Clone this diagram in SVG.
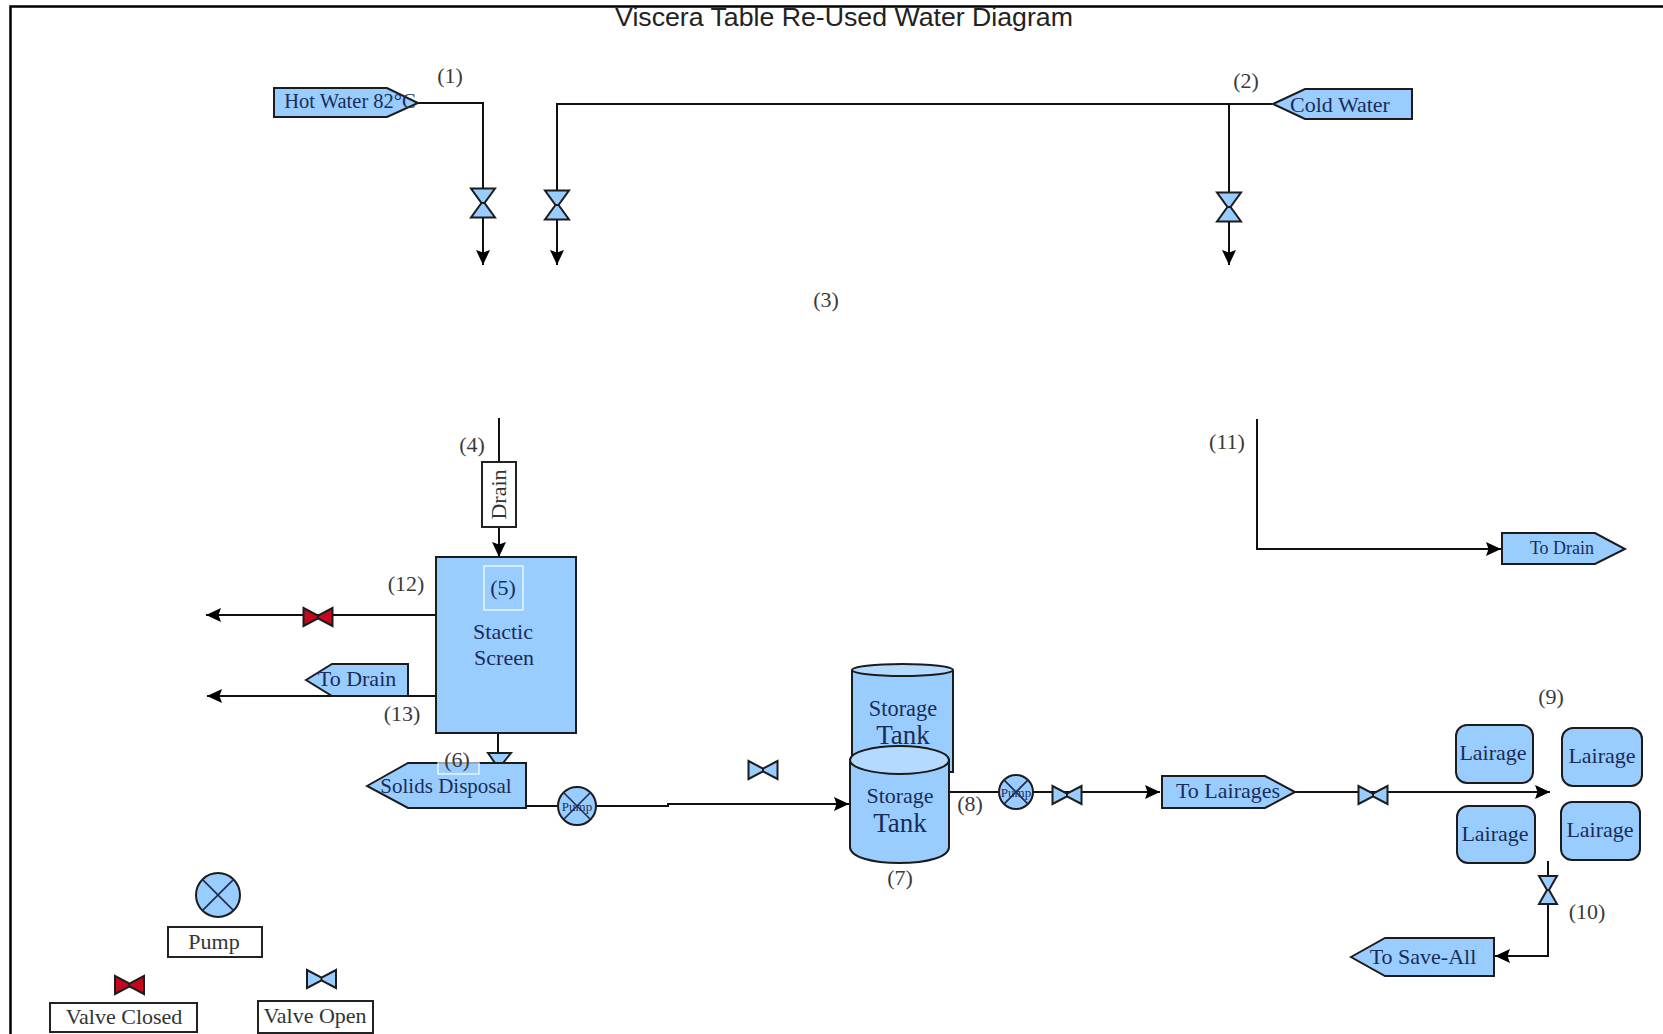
<svg xmlns="http://www.w3.org/2000/svg" width="1663" height="1034" viewBox="0 0 1663 1034">
<style>
text{font-family:"Liberation Serif","Times New Roman",serif;font-size:22px;text-anchor:middle}
.n{fill:#3a3a3a}
.d{fill:#1a2c58}
.k{fill:#333}
.t{font-family:"Liberation Sans",Arial,sans-serif;font-size:26.700px;fill:#222}
.s{fill:#99ccff;stroke:#1c1c1c;stroke-width:2}
.b{fill:#fff;stroke:#222;stroke-width:2}
.w{fill:none;stroke:#fff;stroke-width:1.2}
.l{fill:none;stroke:#111;stroke-width:2}
.v{fill:#99ccff;stroke:#1c1c1c;stroke-width:2;stroke-linejoin:miter}
.r{fill:#c4091e;stroke:#1c1c1c;stroke-width:2}
</style>
<defs>
<marker id="a" markerUnits="userSpaceOnUse" markerWidth="18" markerHeight="16" refX="15" refY="8" orient="auto"><path d="M0 1L2.500 8L0 15L15 8Z" fill="#000"/></marker>
<path id="vh" d="M-14.500-9V9L0 1.500V-1.500ZM14.500-9V9L0 1.500V-1.500Z"/>
<path id="vv" d="M-12-14.500H12L1.500 0H-1.500ZM-12 14.500H12L1.500 0H-1.500Z"/>
<g id="pumpglyph"><circle r="1" class="s" vector-effect="non-scaling-stroke"/><path d="M-.71-.71L.71.71M-.71.71L.71-.71" fill="none" stroke="#1c2c50" stroke-width="1.600" vector-effect="non-scaling-stroke"/></g>
</defs>
<path id="frame" d="M10.500 1034V6.500H1663" fill="none" stroke="#000" stroke-width="2.500"/>
<text class="t" x="844" y="26">Viscera Table Re-Used Water Diagram</text>

<g id="connectors">
<path class="l" d="M418 103H483V265" marker-end="url(#a)"/>
<path class="l" d="M1272 104H557V265" marker-end="url(#a)"/>
<path class="l" d="M1229 104V265" marker-end="url(#a)"/>
<path class="l" d="M499 418V557" marker-end="url(#a)"/>
<path class="l" d="M436 615H206" marker-end="url(#a)"/>
<path class="l" d="M436 696H207" marker-end="url(#a)"/>
<path class="l" d="M498 733V763"/>
<path class="l" d="M526 806H668V804H849" marker-end="url(#a)"/>
<path class="l" d="M950 792H1160" marker-end="url(#a)"/>
<path class="l" d="M1295 792H1550" marker-end="url(#a)"/>
<path class="l" d="M1548 861V956H1495" marker-end="url(#a)"/>
<path class="l" d="M1257 419V549H1501" marker-end="url(#a)"/>
</g>

<g id="hot-water"><path class="s" d="M274 88H387L418 103L387 117H274Z"/><text class="d" x="350" y="108" style="font-size:20.500px">Hot Water 82°C</text></g>
<g id="cold-water"><path class="s" d="M1273 104L1305 89H1412V119H1305Z"/><text class="d" x="1340" y="112">Cold Water</text></g>

<g id="valve-1"><use href="#vv" class="v" x="483" y="203"/></g>
<g id="valve-2"><use href="#vv" class="v" x="557" y="205"/></g>
<g id="valve-3"><use href="#vv" class="v" x="1229" y="207"/></g>

<g id="drain"><rect class="b" x="482" y="462" width="34" height="65"/><text class="k" transform="translate(506 494.500) rotate(-90)">Drain</text></g>

<g id="static-screen"><rect class="s" x="436" y="557" width="140" height="176"/><rect class="w" x="484" y="566" width="39" height="44"/><text class="d" x="503" y="595">(5)</text><text class="d" x="503" y="639">Stactic</text><text class="d" x="504" y="665">Screen</text></g>

<g id="valve-closed-12"><use href="#vh" class="r" x="318" y="617"/></g>
<g id="to-drain-left"><path class="s" d="M306 680L332 664H408V696H332Z"/><text class="d" x="357" y="686">To Drain</text></g>

<g id="partial-valve"><path class="v" d="M488 753H511L503 763H495Z"/></g>
<g id="solids-disposal"><path class="s" d="M367 786L408 763H526V808H408Z"/><rect class="w" x="438" y="763" width="41" height="11"/><text class="d" x="446" y="793" style="font-size:21px">Solids Disposal</text></g>

<g id="pump-1"><use href="#pumpglyph" transform="translate(577 806) scale(19)"/><text class="d" x="577" y="811" style="font-size:13px">Pump</text></g>

<g id="valve-floating"><use href="#vh" class="v" x="763" y="770"/></g>

<g id="tank-back"><path class="s" d="M852 670V772H953V670"/><ellipse cx="902.500" cy="670" rx="50.500" ry="6" fill="#b5daff" stroke="#1c1c1c" stroke-width="2"/><text class="d" x="903" y="716" style="font-size:22.400px">Storage</text><text class="d" x="903" y="744" style="font-size:27px">Tank</text></g>
<g id="tank-front"><path class="s" d="M850 760V847C850 857 872 863 899.500 863S949 857 949 847V760Z"/><ellipse cx="899.500" cy="760" rx="49.500" ry="14" fill="#b5daff" stroke="#1c1c1c" stroke-width="2"/><text class="d" x="900" y="803">Storage</text><text class="d" x="900" y="832" style="font-size:27px">Tank</text></g>

<g id="pump-2"><use href="#pumpglyph" transform="translate(1016 792) scale(17)"/><text class="d" x="1016" y="797" style="font-size:13px">Pump</text></g>
<g id="valve-8"><use href="#vh" class="v" x="1067" y="795"/></g>
<g id="to-lairages"><path class="s" d="M1162 776H1265L1295 792L1265 808H1162Z"/><text class="d" x="1228" y="798">To Lairages</text></g>
<g id="valve-9"><use href="#vh" class="v" x="1373" y="795"/></g>

<g id="lairage-a"><rect class="s" x="1456" y="725" width="77" height="58" rx="11"/><text class="d" x="1493" y="760">Lairage</text></g>
<g id="lairage-b"><rect class="s" x="1562" y="728" width="80" height="58" rx="11"/><text class="d" x="1602" y="763">Lairage</text></g>
<g id="lairage-c"><rect class="s" x="1457" y="806" width="78" height="57" rx="11"/><text class="d" x="1495" y="841">Lairage</text></g>
<g id="lairage-d"><rect class="s" x="1561" y="802" width="79" height="58" rx="11"/><text class="d" x="1600" y="837">Lairage</text></g>

<g id="valve-10"><path class="v" d="M1539 876H1557L1549 890H1547ZM1539 904H1557L1549 890H1547Z"/></g>
<g id="to-save-all"><path class="s" d="M1351 957L1385 938H1494V976H1385Z"/><text class="d" x="1423" y="964">To Save-All</text></g>
<g id="to-drain-right"><path class="s" d="M1502 533H1595L1625 549L1595 564H1502Z"/><text class="d" x="1562" y="554" style="font-size:18px">To Drain</text></g>

<g id="labels">
<text class="n" x="450" y="83">(1)</text>
<text class="n" x="1246" y="88">(2)</text>
<text class="n" x="826" y="307">(3)</text>
<text class="n" x="472" y="452">(4)</text>
<text class="n" x="457" y="767">(6)</text>
<text class="n" x="900" y="885">(7)</text>
<text class="n" x="970" y="811">(8)</text>
<text class="n" x="1551" y="704">(9)</text>
<text class="n" x="1587" y="919">(10)</text>
<text class="n" x="1227" y="449">(11)</text>
<text class="n" x="406" y="591">(12)</text>
<text class="n" x="402" y="721">(13)</text>
</g>

<g id="legend-pump"><use href="#pumpglyph" transform="translate(218 895) scale(22)"/><rect class="b" x="168" y="927" width="94" height="30"/><text class="k" x="214" y="949">Pump</text></g>
<g id="legend-closed"><use href="#vh" class="r" x="129.500" y="985"/><rect class="b" x="50" y="1003" width="147" height="29"/><text class="k" x="124" y="1024">Valve Closed</text></g>
<g id="legend-open"><use href="#vh" class="v" x="321.500" y="979"/><rect class="b" x="258" y="1001" width="115" height="32"/><text class="k" x="315" y="1023">Valve Open</text></g>
</svg>
